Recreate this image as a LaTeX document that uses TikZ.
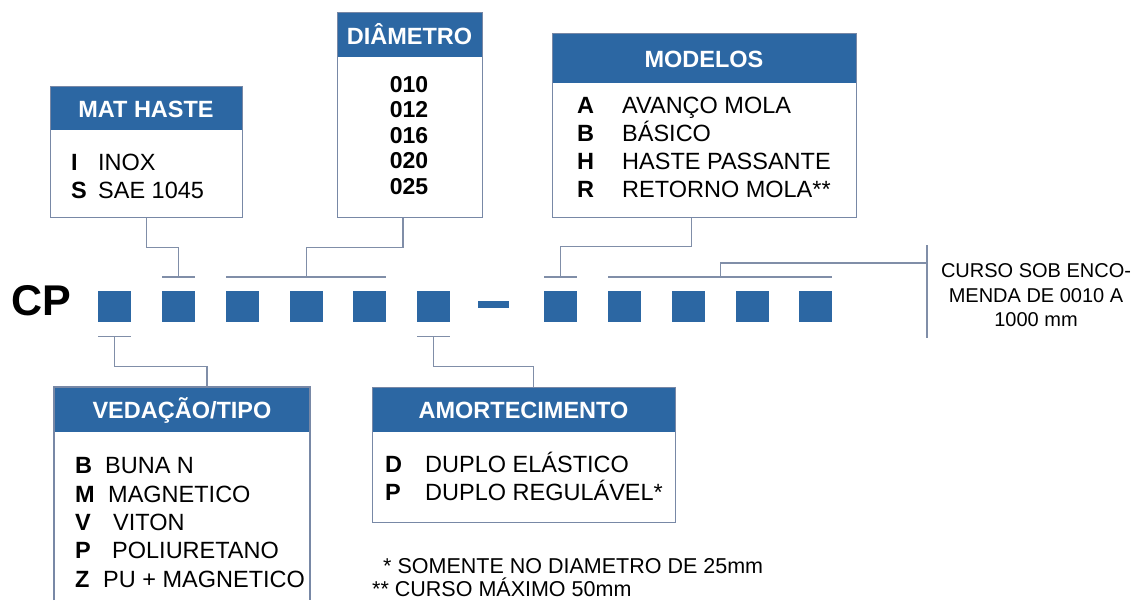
\documentclass[tikz,border=0pt]{standalone}
\usepackage{fontspec}
\usetikzlibrary{calc}
\setmainfont{Liberation Sans}
\definecolor{cpblue}{RGB}{44,103,163}
\definecolor{lncol}{RGB}{128,142,168}
\definecolor{frcol}{RGB}{120,136,166}
\tikzset{
  sq/.style={fill=cpblue, draw=none, minimum width=33pt, minimum height=31pt, inner sep=0, anchor=north west},
  ln/.style={draw=lncol, line width=1.3pt},
  frame/.style={draw=frcol, line width=1.2pt, inner sep=0, anchor=north west},
  hdr/.style={text=white, font=\fontsize{23.5}{26}\selectfont\bfseries, anchor=base, inner sep=0},
  itm/.style={font=\fontsize{23.5}{26}\selectfont, anchor=base west, inner sep=0},
  keyl/.style={font=\fontsize{23.5}{26}\selectfont\bfseries, anchor=base west, inner sep=0},
  num/.style={font=\fontsize{23}{26}\selectfont\bfseries, anchor=base, inner sep=0},
  note/.style={font=\fontsize{21.5}{24}\selectfont, anchor=base west, inner sep=0},
  crs/.style={font=\fontsize{20}{24}\selectfont, anchor=base, inner sep=0},
}
\begin{document}
\begin{tikzpicture}[x=1pt,y=-1pt]
\useasboundingbox (0,0) rectangle (1142,600);

% ---------- boxes ----------
% MAT HASTE
\fill[cpblue] (50,86) rectangle (242,130);
\node[frame, minimum width=192pt, minimum height=131pt] (mat) at (50,86) {};
\node[hdr] (math) at (146,117) {MAT HASTE};
\node[keyl] (mati) at (71,170) {I};
\node[itm] (matit) at (98,170) {INOX};
\node[keyl] (mats) at (71,198) {S};
\node[itm] (matst) at (98,198) {SAE 1045};

% DIAMETRO
\fill[cpblue] (337,12) rectangle (482,57);
\node[frame, minimum width=145pt, minimum height=205pt] (dia) at (337,12) {};
\node[hdr] (diah) at (409.5,44) {DIÂMETRO};
\node[num] (d1) at (409,92) {010};
\node[num] (d2) at (409,117) {012};
\node[num] (d3) at (409,143) {016};
\node[num] (d4) at (409,168) {020};
\node[num] (d5) at (409,194) {025};

% MODELOS
\fill[cpblue] (552,33) rectangle (856,83);
\node[frame, minimum width=304pt, minimum height=184pt] (mod) at (552,33) {};
\node[hdr] (modh) at (704,67) {MODELOS};
\node[keyl] (ma) at (577,113) {A};
\node[itm] (mat1) at (622,113) {AVANÇO MOLA};
\node[keyl] (mb) at (577,141) {B};
\node[itm] (mat2) at (622,141) {BÁSICO};
\node[keyl] (mh) at (577,169) {H};
\node[itm] (mat3) at (622,169) {HASTE PASSANTE};
\node[keyl] (mr) at (577,197) {R};
\node[itm] (mat4) at (622,197) {RETORNO MOLA**};

% VEDACAO/TIPO (runs off the bottom edge)
\fill[cpblue] (54,387) rectangle (310,432);
\coordinate (vedtl) at (54,387);
\coordinate (vedtr) at (310,387);
\coordinate (vedbl) at (54,600);
\coordinate (vedbr) at (310,600);
\coordinate (ved) at (182,387);
\draw[draw=frcol, line width=1.2pt] (vedbl) -- (vedtl) -- (vedtr) -- (vedbr);
\node[hdr] (vedh) at (182,418) {VEDAÇÃO/TIPO};
\node[keyl] (v1) at (75,473) {B};
\node[itm] (v1t) at (105,473) {BUNA N};
\node[keyl] (v2) at (75,502) {M};
\node[itm] (v2t) at (108,502) {MAGNETICO};
\node[keyl] (v3) at (75,530) {V};
\node[itm] (v3t) at (113,530) {VITON};
\node[keyl] (v4) at (75,558) {P};
\node[itm] (v4t) at (112,558) {POLIURETANO};
\node[keyl] (v5) at (75,587) {Z};
\node[itm] (v5t) at (103,587) {PU + MAGNETICO};

% AMORTECIMENTO
\fill[cpblue] (372,387) rectangle (675,432);
\node[frame, minimum width=303pt, minimum height=135pt] (amo) at (372,387) {};
\node[hdr] (amoh) at (523.5,418) {AMORTECIMENTO};
\node[keyl] (ad) at (385,472) {D};
\node[itm] (adt) at (425,472) {DUPLO ELÁSTICO};
\node[keyl] (ap) at (385,500) {P};
\node[itm] (apt) at (425,500) {DUPLO REGULÁVEL*};

% ---------- code line ----------
\node[font=\fontsize{43}{45}\selectfont\bfseries, anchor=base west, inner sep=0] (cp) at (11,315) {CP};
\foreach \i/\x in {1/98,2/162,3/226,4/290,5/353,6/417,7/544,8/608,9/672,10/736,11/799}{
  \node[sq] (s\i) at (\x,291) {};
}
\node[fill=cpblue, draw=none, minimum width=31pt, minimum height=7pt, inner sep=0] (dash) at (493.5,304.5) {};

% ---------- bars ----------
\coordinate (b2) at ([yshift=14pt]s2.north);
\coordinate (b35) at ([yshift=14pt]s4.north);
\coordinate (b7) at ([yshift=14pt]s7.north);
\coordinate (b811) at ([yshift=14pt]$(s9.north)!0.5!(s10.north)$);
\coordinate (u1) at ([yshift=-14pt]s1.south);
\coordinate (u6) at ([yshift=-14pt]s6.south);

\draw[ln] ([yshift=14pt]s2.north west) -- ([yshift=14pt]s2.north east);
\draw[ln] ([yshift=14pt]s3.north west) -- ([yshift=14pt]s5.north east);
\draw[ln] ([yshift=14pt]s7.north west) -- ([yshift=14pt]s7.north east);
\draw[ln] ([yshift=14pt]s8.north west) -- ([yshift=14pt]s11.north east);
\draw[ln] ([yshift=-14pt]s1.south west) -- ([yshift=-14pt]s1.south east);
\draw[ln] ([yshift=-14pt]s6.south west) -- ([yshift=-14pt]s6.south east);

% ---------- connectors ----------
\draw[ln] (mat.south) -- ++(0,29) -| (b2);
\draw[ln] ([xshift=-7pt]dia.south) -- ++(0,29) -| (b35);
\draw[ln] ([xshift=-13pt]mod.south) -- ++(0,28) -| (b7);
\draw[ln] (u1) -- ++(0,30) -| ([xshift=25pt]ved);
\draw[ln] (u6) -- ++(0,30) -| ([xshift=9.5pt]amo.north);

% course
\coordinate (ctop) at (927,245);
\coordinate (cbot) at (927,338);
\draw[ln] (ctop) -- (cbot);
\draw[ln] (b811) -- ++(0,-14) -- (ctop |- 0,263);
\node[crs] (c1) at (1036,277) {CURSO SOB ENCO-};
\node[crs] (c2) at (1036,302) {MENDA DE 0010 A};
\node[crs] (c3) at (1036,326) {1000 mm};

% ---------- notes ----------
\node[note] (n1) at (383,573) {* SOMENTE NO DIAMETRO DE 25mm};
\node[note] (n2) at (372,596) {** CURSO MÁXIMO 50mm};
\end{tikzpicture}
\end{document}
